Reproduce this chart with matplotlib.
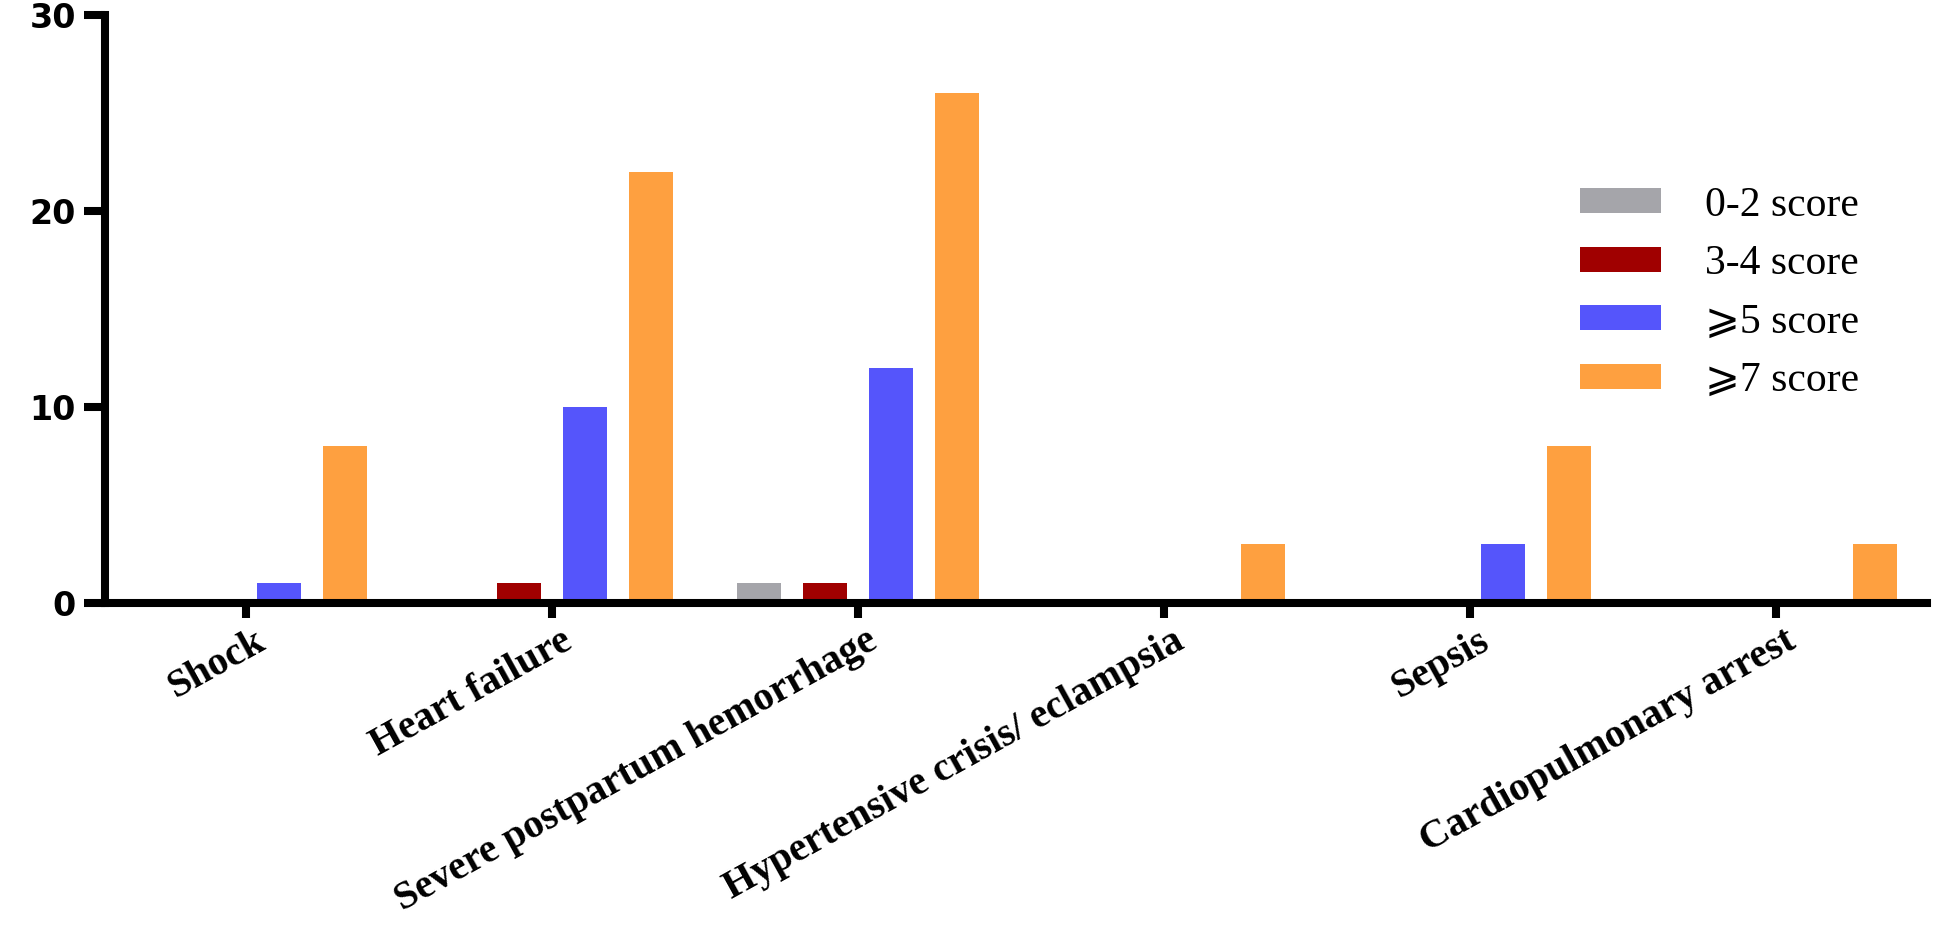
import matplotlib
matplotlib.use("Agg")
import matplotlib.pyplot as plt
import numpy as np

categories = ["Shock", "Heart failure", "Severe postpartum hemorrhage",
              "Hypertensive crisis/ eclampsia", "Sepsis", "Cardiopulmonary arrest"]
series_names = ["0-2 score", "3-4 score", "\u2a7e5 score", "\u2a7e7 score"]
score_0_2 = [0, 0, 1, 0, 0, 0]
score_3_4 = [0, 1, 1, 0, 0, 0]
score_ge5 = [1, 10, 12, 0, 3, 0]
score_ge7 = [8, 22, 26, 3, 8, 3]
series_values = [score_0_2, score_3_4, score_ge5, score_ge7]
colors = ["#a5a5aa", "#a00000", "#5555fb", "#fea040"]
y_ticks = [0, 10, 20, 30]

W, H = 1944, 930
fig = plt.figure(figsize=(W / 100, H / 100), dpi=100)
ax = fig.add_axes([105 / W, 1 - 603 / H, (1927 - 105) / W, (603 - 15) / H])

x = np.arange(len(categories))
step = 0.216
width = 0.144
for k, (name, vals, c) in enumerate(zip(series_names, series_values, colors)):
    ax.bar(x + (k - 1.5) * step, vals, width=width, color=c, label=name, zorder=2)

ax.set_xlim(-0.461, 5.493)
ax.set_ylim(0, 30)
ax.set_yticks(y_ticks)
ax.set_xticks(x)

for s in ["top", "right"]:
    ax.spines[s].set_visible(False)
for s in ["left", "bottom"]:
    ax.spines[s].set_linewidth(5.8)
    ax.spines[s].set_capstyle("projecting")
    ax.spines[s].set_zorder(3)

ax.tick_params(axis="y", length=15, width=5.8, pad=6)
ax.tick_params(axis="x", length=11, width=5.8, pad=3)
for lab in ax.get_yticklabels():
    lab.set_fontfamily("DejaVu Sans")
    lab.set_fontweight("heavy")
    lab.set_fontsize(24)

ax.set_xticklabels(categories, rotation=29, ha="right", va="top",
                   rotation_mode="anchor", fontfamily="Liberation Serif",
                   fontweight="bold", fontsize=29)
for lab in ax.get_xticklabels():
    lab.set_transform(lab.get_transform() + matplotlib.transforms.ScaledTranslation(8 / 100, 0, fig.dpi_scale_trans))

leg = ax.legend(loc="upper left", bbox_to_anchor=(1580 / W, 1 - 186 / H),
                bbox_transform=fig.transFigure, frameon=False,
                prop={"family": ["Liberation Serif", "DejaVu Serif", "DejaVu Sans"], "size": 30},
                handlelength=1.95, handleheight=0.55, handletextpad=1.05,
                labelspacing=0.48, borderpad=0, borderaxespad=0)

fig.savefig("out.png", dpi=100, facecolor="white")
